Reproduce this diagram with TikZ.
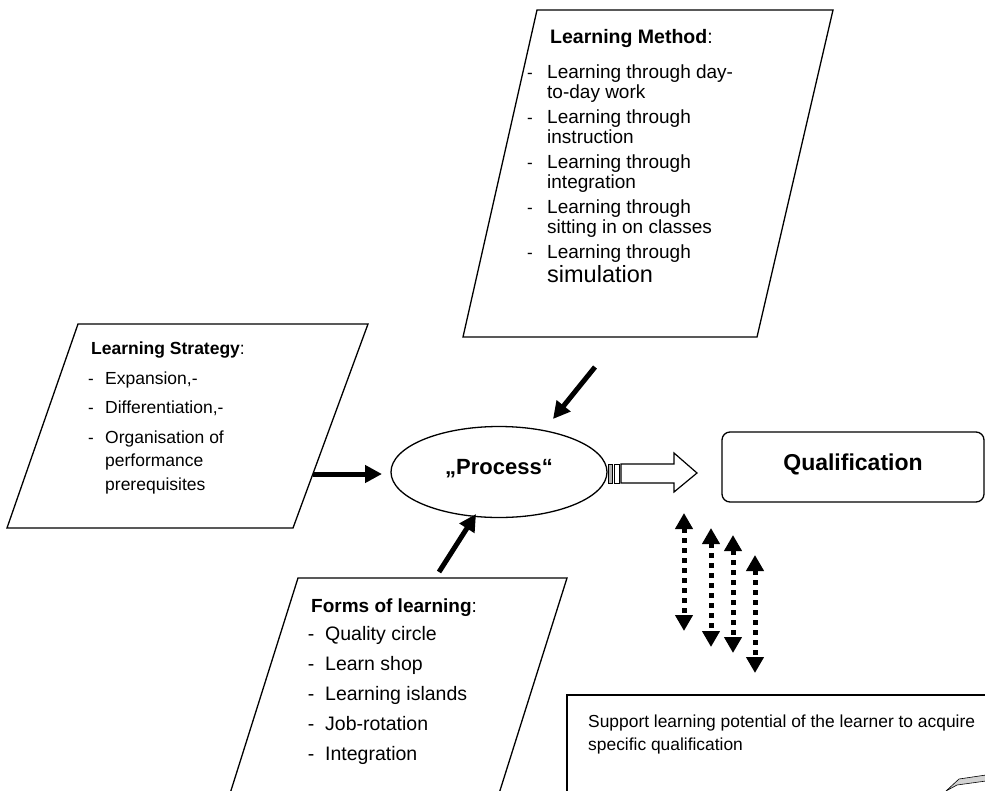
\documentclass[tikz,border=0pt]{standalone}
\usepackage{fontspec}
\setmainfont{Liberation Sans}
\usetikzlibrary{arrows.meta}
\usetikzlibrary{shapes.geometric}

\begin{document}
\begin{tikzpicture}
[x=1pt,y=-1pt,
  boxdecorate/.style={draw,line width=1.3pt,line join=miter},
  headtext/.style={anchor=base west,inner sep=0pt,font=\fontsize{19}{22}\selectfont},
  itemtext/.style={anchor=base west,inner sep=0pt,font=\fontsize{17}{20}\selectfont},
  dashtext/.style={anchor=base,inner sep=0pt,font=\fontsize{17}{20}\selectfont},
  thickarrow/.style={-{Triangle[length=17pt,width=17pt]},line width=5pt},
  dotarrow/.style={{Triangle[length=16pt,width=17pt]}-{Triangle[length=16pt,width=17pt]},
    line width=5pt,dash pattern=on 5pt off 5pt}]
\useasboundingbox (0,0) rectangle (985,790);
\clip (0,0) rectangle (985,790);

%% boxes
\draw[boxdecorate] (537,10) -- (833,10) -- (757,337) -- (463,337) -- cycle;
\draw[boxdecorate] (78,324) -- (368,324) -- (293,528) -- (7,528) -- cycle;
\draw[boxdecorate] (298,578) -- (567,578) -- (497,800) -- (228,800) -- cycle;
\draw[boxdecorate] (567,800) -- (567,695) -- (1000,695);
\filldraw[fill=gray!35,line width=0.6pt] (946,791) -- (959,779) -- (986,775)
  -- (986,781) -- (957,785) -- cycle;

%% learning method
\node (methhead) [headtext,font=\fontsize{19.5}{23}\selectfont] at (550,43)
  {\textbf{Learning Method}:};
\foreach \i/\y/\txt in {1/78/Learning through day-, 2/98/to-day work,
  3/123/Learning through, 4/143/instruction, 5/168/Learning through,
  6/188/integration, 7/213/Learning through, 8/233/sitting in on classes,
  9/258/Learning through}
{
  \node (meth\i) [itemtext,font=\fontsize{19}{20}\selectfont] at (547,\y) {\txt};
}
\node (meth10) [itemtext,font=\fontsize{23.5}{26}\selectfont] at (547,282) {simulation};
\foreach \i/\y in {1/78, 2/123, 3/168, 4/213, 5/258}
  \node (methdash\i) [dashtext] at (530,\y) {-};

%% learning strategy
\node (strathead) [headtext,font=\fontsize{17.5}{21}\selectfont] at (91,354)
  {\textbf{Learning Strategy}:};
\foreach \i/\y/\txt in {1/384/{Expansion,-}, 2/413/{Differentiation,-},
  3/443/Organisation of, 4/466/performance, 5/490/prerequisites}
{
  \node (strat\i) [itemtext,font=\fontsize{17.5}{21}\selectfont] at (105,\y) {\txt};
}
\foreach \i/\y in {1/384, 2/413, 3/443}
  \node (stratdash\i) [dashtext] at (91,\y) {-};

%% forms of learning
\node (formhead) [headtext] at (311,612) {\textbf{Forms of learning}:};
\foreach \i/\y/\txt in {1/640/Quality circle, 2/670/Learn shop,
  3/700/Learning islands, 4/730/Job-rotation, 5/760/Integration}
{
  \node (form\i) [itemtext,font=\fontsize{19.5}{23}\selectfont] at (325,\y) {\txt};
  \node (formdash\i) [dashtext,font=\fontsize{19.5}{23}\selectfont] at (311,\y) {-};
}

%% support
\node (supp1) [itemtext,font=\fontsize{17.4}{21}\selectfont] at (588,727)
  {Support learning potential of the learner to acquire};
\node (supp2) [itemtext,font=\fontsize{17.4}{21}\selectfont] at (588,750)
  {specific qualification};

%% process and qualification
\node (proc) [ellipse,draw,line width=1.3pt,minimum width=216pt,minimum height=91pt]
  at (499,472) {};
\node (proctext) [anchor=base,inner sep=0pt,font=\fontsize{22}{26}\selectfont\bfseries]
  at (499,474) {„Process“};
\node (qual) [draw,line width=1.3pt,rounded corners=8pt,minimum width=262pt,
  minimum height=70pt] at (853,467) {};
\node (qualtext) [anchor=base,inner sep=0pt,font=\fontsize{23}{27}\selectfont\bfseries]
  at (853,470) {Qualification};

%% block arrow
\fill[gray!60] (608,464) rectangle (612,483);
\draw[line width=0.8pt] (608,464) rectangle (612,483);
\draw[line width=0.8pt] (614,464) rectangle (619,483);
\draw[line width=1.2pt,line join=miter] (621,464) -- (674,464) -- (674,453)
  -- (697,473) -- (674,492) -- (674,483) -- (621,483) -- cycle;

%% arrows into process
\coordinate (stratout) at (313,474);
\coordinate (stratin) at (382,474);
\coordinate (methout) at (595,367);
\coordinate (methin) at (553,419);
\coordinate (formout) at (439,572);
\coordinate (formin) at (476,514);
\path
\foreach \startnode/\endnode in {stratout/stratin, methout/methin, formout/formin}
{
  (\startnode) edge[thickarrow] (\endnode)
};

%% dotted double arrows
\foreach \i/\x/\ya/\yb in {1/684/513/631, 2/711/528/647, 3/733/535/653, 4/755/555/673}
{
  \coordinate (dtop\i) at (\x,\ya);
  \coordinate (dbot\i) at (\x,\yb);
  \draw[dotarrow] (dtop\i) -- (dbot\i);
}
\end{tikzpicture}
\end{document}
